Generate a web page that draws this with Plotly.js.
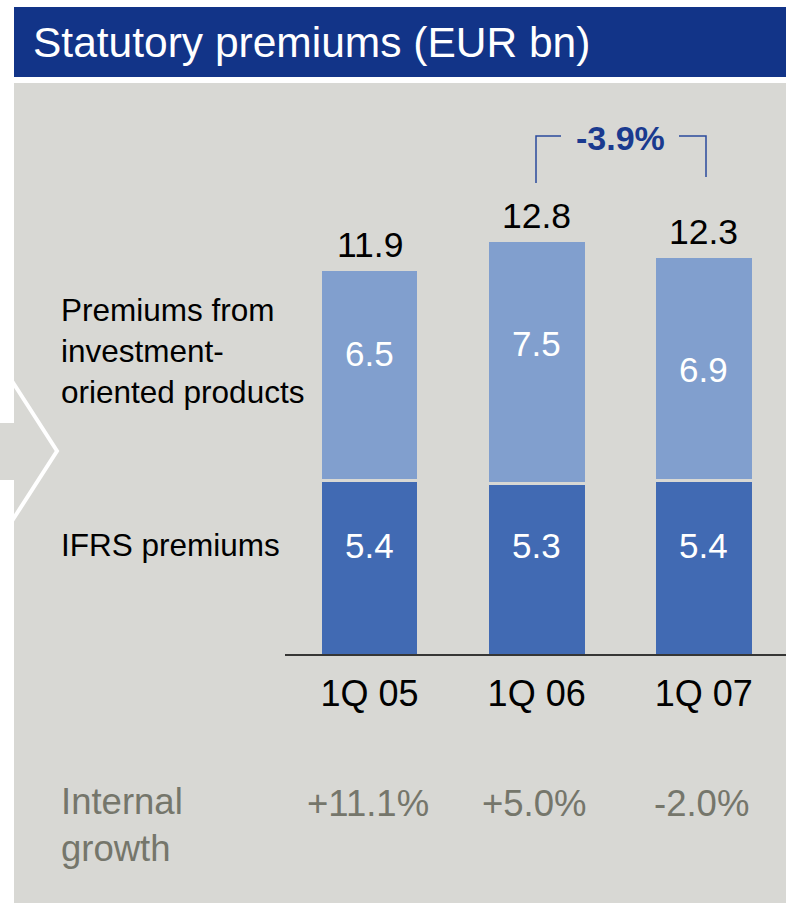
<!DOCTYPE html>
<html>
<head>
<meta charset="utf-8">
<script src="https://cdn.plot.ly/plotly-3.0.1.min.js"></script>
<style>html,body{margin:0;padding:0;background:#fff;}#chart{width:786px;height:903px;}</style>
</head>
<body>
<div id="chart"></div>
<script>
// ---- data ----
const categories = ['1Q 05', '1Q 06', '1Q 07'];
const ifrsPremiums = [5.4, 5.3, 5.4];
const investmentPremiums = [6.5, 7.5, 6.9];
const totals = [11.9, 12.8, 12.3];
const internalGrowth = ['+11.1%', '+5.0%', '-2.0%'];
const changeLabel = '-3.9%';
const chartTitle = 'Statutory premiums (EUR bn)';
const investmentName = 'Premiums from<br>investment-<br>oriented products';
const ifrsName = 'IFRS premiums';
const growthName = 'Internal<br>growth';

// ---- geometry / style ----
const W = 786, H = 903, B = 248, PH = H - B;
const X = px => px / W;
const Y = py => (PH - py) / PH;
const pxPerUnit = 32.35;
const dataY = py => (PH - py) / pxPerUnit;
const FONT = 'Liberation Sans, Arial, Helvetica, sans-serif';
const BG = '#d8d8d4';
const DARK = '#416ab3';
const LIGHT = '#819fce';
const NAVY = '#123488';
const GROWTH_COL = '#75766b';
const invLabelPx = [353, 343, 369];
const ifrsLabelPx = [545, 545, 545];

const traces = [
  {type: 'bar', x: categories, y: ifrsPremiums, name: 'IFRS premiums', width: 0.5875,
   marker: {color: DARK, line: {color: BG, width: 2.5}}, hoverinfo: 'none'},
  {type: 'bar', x: categories, y: investmentPremiums, name: 'Investment-oriented', width: 0.5875,
   marker: {color: LIGHT, line: {color: BG, width: 2.5}}, hoverinfo: 'none'}
];

const shapes = [
  {type: 'rect', xref: 'paper', yref: 'paper', x0: X(14), x1: 1, y0: Y(903), y1: Y(83), fillcolor: BG, line: {width: 0}, layer: 'below'},
  {type: 'rect', xref: 'paper', yref: 'paper', x0: X(14), x1: 1, y0: Y(77), y1: Y(7), fillcolor: NAVY, line: {width: 0}, layer: 'below'},
  {type: 'rect', xref: 'paper', yref: 'paper', x0: 0, x1: X(15), y0: Y(480), y1: Y(423), fillcolor: BG, line: {width: 0}, layer: 'below'},
  {type: 'path', xref: 'paper', yref: 'paper', layer: 'below',
   path: `M ${X(12)},${Y(381)} L ${X(57)},${Y(451)} L ${X(12)},${Y(521)}`, line: {color: '#ffffff', width: 4}},
  {type: 'line', xref: 'paper', yref: 'paper', x0: X(285), x1: 1, y0: Y(655), y1: Y(655), line: {color: '#000000', width: 1.5}},
  {type: 'path', xref: 'paper', yref: 'paper',
   path: `M ${X(536)},${Y(183)} L ${X(536)},${Y(136)} L ${X(561)},${Y(136)}`, line: {color: '#2a4a9c', width: 1.5}},
  {type: 'path', xref: 'paper', yref: 'paper',
   path: `M ${X(679)},${Y(136)} L ${X(706)},${Y(136)} L ${X(706)},${Y(177)}`, line: {color: '#2a4a9c', width: 1.5}}
];

const annotations = [
  {text: chartTitle, xref: 'paper', yref: 'paper', x: X(31), y: Y(43), xanchor: 'left', yanchor: 'middle',
   showarrow: false, font: {family: FONT, size: 42.5, color: '#ffffff'}},
  {text: investmentName, xref: 'paper', yref: 'paper', x: X(59), y: Y(351), xanchor: 'left', yanchor: 'middle', align: 'left',
   showarrow: false, font: {family: FONT, size: 31.5, color: '#000000'}},
  {text: ifrsName, xref: 'paper', yref: 'paper', x: X(59), y: Y(545), xanchor: 'left', yanchor: 'middle', align: 'left',
   showarrow: false, font: {family: FONT, size: 31.5, color: '#000000'}},
  {text: growthName, xref: 'paper', yref: 'paper', x: X(59), y: Y(825), xanchor: 'left', yanchor: 'middle', align: 'left',
   showarrow: false, font: {family: FONT, size: 36.5, color: GROWTH_COL}},
  {text: '<b>' + changeLabel + '</b>', xref: 'paper', yref: 'paper', x: X(620), y: Y(138), xanchor: 'center', yanchor: 'middle',
   showarrow: false, font: {family: FONT, size: 34, color: '#1a3a8f'}}
];
categories.forEach((c, i) => {
  annotations.push({text: String(totals[i].toFixed(1)), x: c, y: totals[i], xref: 'x', yref: 'y', yanchor: 'middle', yshift: 25,
    showarrow: false, font: {family: FONT, size: 35.5, color: '#000000'}});
  annotations.push({text: investmentPremiums[i].toFixed(1), x: c, y: dataY(invLabelPx[i]), xref: 'x', yref: 'y', yanchor: 'middle',
    showarrow: false, font: {family: FONT, size: 35, color: '#ffffff'}});
  annotations.push({text: ifrsPremiums[i].toFixed(1), x: c, y: dataY(ifrsLabelPx[i]), xref: 'x', yref: 'y', yanchor: 'middle',
    showarrow: false, font: {family: FONT, size: 35, color: '#ffffff'}});
  annotations.push({text: internalGrowth[i], x: c, y: Y(803), xref: 'x', yref: 'paper', yanchor: 'middle', xshift: -2,
    showarrow: false, font: {family: FONT, size: 36.5, color: GROWTH_COL}});
});

const layout = {
  width: W, height: H,
  margin: {l: 0, r: 0, t: 0, b: B, pad: 0},
  paper_bgcolor: '#ffffff', plot_bgcolor: 'rgba(0,0,0,0)',
  barmode: 'stack', showlegend: false,
  xaxis: {type: 'category', range: [-369.5 / 167.15, (786 - 369.5) / 167.15], fixedrange: true,
    showgrid: false, zeroline: false, showline: false, ticks: '', ticklabelstandoff: 14,
    tickfont: {family: FONT, size: 36, color: '#000000'}},
  yaxis: {range: [0, PH / pxPerUnit], visible: false, fixedrange: true},
  shapes: shapes, annotations: annotations
};

Plotly.newPlot('chart', traces, layout, {staticPlot: true, displayModeBar: false});
</script>
</body>
</html>
